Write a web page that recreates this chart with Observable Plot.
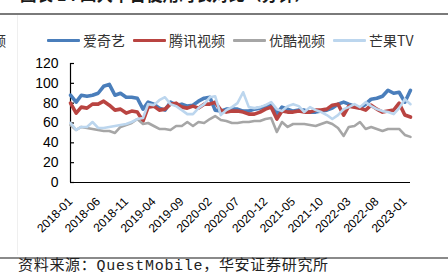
<!DOCTYPE html>
<html><head><meta charset="utf-8">
<script src="https://cdn.jsdelivr.net/npm/d3@7"></script>
<script src="https://cdn.jsdelivr.net/npm/@observablehq/plot@0.6"></script>
<style>
body{margin:0;background:#fff;}
#wrap{position:relative;width:448px;height:272px;overflow:hidden;background:#fff;font-family:"Noto Sans CJK SC",sans-serif;}
#title{position:absolute;left:20px;top:-14px;font-size:16.5px;font-weight:bold;color:#1a1a1a;white-space:nowrap;line-height:17px;}
.hr{position:absolute;left:0;width:448px;height:2px;background:#7a7a7a;}
#side{position:absolute;left:-8px;top:30px;font-size:14px;color:#333;}
#vline{position:absolute;left:17px;top:15px;width:1px;height:240px;background:#efefef;}
#legend{position:absolute;left:47px;top:31px;display:flex;align-items:center;font-size:14px;color:#333;white-space:nowrap;line-height:18px;}
#legend .it{display:flex;align-items:center;margin-right:8px;}
#legend .sw{width:33px;height:3px;margin-right:3px;border-radius:1px;}
#plot{position:absolute;left:0;top:50px;}
#source{position:absolute;left:18px;top:258px;font-size:15px;letter-spacing:0.7px;color:#222;white-space:nowrap;font-family:"Liberation Mono","Noto Sans CJK SC",monospace;line-height:17px;}
</style></head>
<body>
<div id="wrap">
  <div id="title">图表 14 四大平台使用时长对比（分钟）</div>
  <div class="hr" style="top:13px"></div>
  <div id="side">频</div>
  <div id="vline"></div>
  <div id="legend"></div>
  <div id="plot"></div>
  <div class="hr" style="top:257px;height:2px;background:#8a8a8a"></div>
  <div id="source">资料来源：QuestMobile，华安证券研究所</div>
</div>
<script>
const seriesNames = ["爱奇艺", "腾讯视频", "优酷视频", "芒果TV"];
const seriesColors = ["#4a7ebb", "#b94441", "#a6a6a6", "#bcd6ee"];
const seriesWidths = [3.6, 3.6, 2.6, 2.6];

const startMonth = new Date(Date.UTC(2018, 0, 1));
const endMonth = new Date(Date.UTC(2023, 2, 1));
const months = d3.utcMonth.range(startMonth, endMonth); // 2018-01 ... 2023-02

const iqiyi = [88,81,88,87,88,90,97,99,88,90,86,86,85,74,81,79,75,73,81,78,79,77,78,82,85,86,73,72,74,74,74,72,72,74,75,77,79,69,76,74,72,73,73,71,71,72,73,75,79,81,79,77,75,79,84,85,87,93,90,91,81,93];
const tencent = [80,70,76,75,79,79,82,78,73,74,70,72,71,62,76,77,73,74,79,80,76,75,77,75,79,79,81,73,71,72,72,71,69,69,71,74,76,64,72,71,71,72,71,71,73,73,74,78,79,68,77,76,75,73,78,74,71,72,73,80,68,66];
const youku = [58,53,56,55,54,53,52,52,50,56,58,60,64,59,60,57,54,54,53,57,57,61,57,61,60,64,67,63,62,60,60,61,61,62,62,64,65,51,61,56,59,59,59,58,57,59,61,59,55,47,56,57,61,54,56,54,52,54,54,54,48,46];
const mango = [60,53,56,56,61,55,55,56,57,58,59,61,64,65,79,78,83,86,79,77,73,69,69,75,79,86,87,68,73,76,80,91,76,75,76,78,81,74,72,77,79,77,71,76,73,71,68,64,68,74,76,79,76,81,77,74,72,71,69,75,84,79];
const seriesValues = [iqiyi, tencent, youku, mango];

const yTicks = [0, 20, 40, 60, 80, 100, 120];
const xTickLabels = ["2018-01","2018-06","2018-11","2019-04","2019-09","2020-02","2020-07","2020-12","2021-05","2021-10","2022-03","2022-08","2023-01"];
const xTicks = xTickLabels.map(s => d3.utcParse("%Y-%m")(s));

const data = [];
seriesNames.forEach((name, i) => {
  seriesValues[i].forEach((v, j) => data.push({series: name, date: months[j], value: v}));
});

// legend
const leg = document.getElementById("legend");
seriesNames.forEach((n, i) => {
  const it = document.createElement("div"); it.className = "it";
  const sw = document.createElement("div"); sw.className = "sw"; sw.style.background = seriesColors[i];
  const tx = document.createElement("span"); tx.textContent = n;
  it.appendChild(sw); it.appendChild(tx); leg.appendChild(it);
});

const x0 = months[0];
const chart = Plot.plot({
  width: 448,
  height: 195,
  marginLeft: 70,
  marginRight: 38,
  marginTop: 13,
  marginBottom: 63,
  style: {fontFamily: "'Liberation Sans', Arial, sans-serif", color: "#000", background: "transparent"},
  x: {type: "utc", domain: [months[0], months[months.length - 1]]},
  y: {domain: [0, 120]},
  marks: [
    Plot.axisY({ticks: yTicks, tickSize: 0, tickPadding: 12, fontSize: 14, label: null}),
    Plot.axisX({ticks: xTicks, tickFormat: d3.utcFormat("%Y-%m"), tickRotate: -45, tickSize: 0, tickPadding: 12, dy: 5, fontSize: 12, label: null}),
    Plot.ruleY(yTicks, {x1: x0, x2: d3.utcDay.offset(x0, 22), stroke: "#000", strokeWidth: 1.2}),
    Plot.ruleX([x0], {y1: 0, y2: 120, stroke: "#000", strokeWidth: 1.2}),
    ...seriesNames.map((n, i) => Plot.line(data.filter(d => d.series === n), {
      x: "date", y: "value", stroke: seriesColors[i], strokeWidth: seriesWidths[i], strokeLinejoin: "round"
    })),
    Plot.ruleY([0], {stroke: "#000", strokeWidth: 1.2})
  ]
});
document.getElementById("plot").appendChild(chart);
</script>
</body></html>
